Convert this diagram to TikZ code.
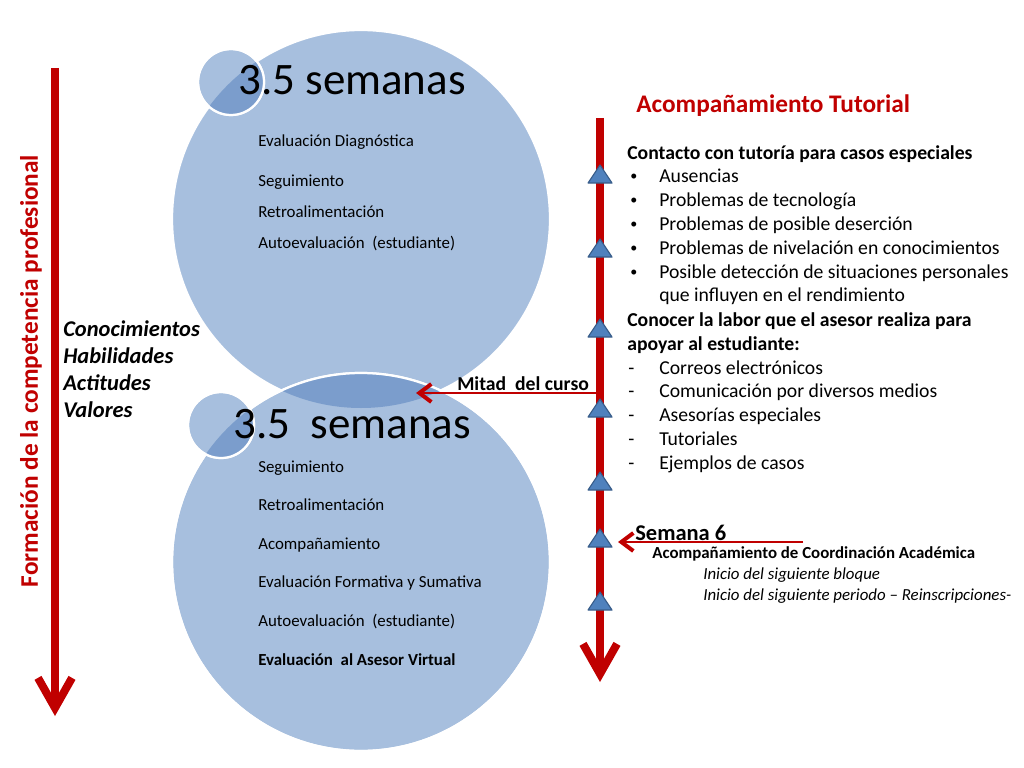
\documentclass[tikz,border=0pt]{standalone}
\usepackage{fontspec}
\setmainfont{Carlito}
\usetikzlibrary{arrows.meta,positioning}
\definecolor{darkred}{HTML}{C00000}
\definecolor{circblue}{HTML}{A7BFDE}
\definecolor{lensblue}{HTML}{7B9DCC}
\definecolor{triblue}{HTML}{4F81BD}
\definecolor{triedge}{HTML}{385D8A}
\tikzset{
bigcirc/.style={
  fill=circblue,
  draw=white,
  line width=1.6pt,
  }
}
\tikzset{
spine/.style={
  draw=darkred,
  line width=0.2cm,
  -{Straight Barb[length=0.75cm,width=0.85cm]}
  }
}
\tikzset{
pointer/.style={
  draw=darkred,
  line width=0.07cm,
  -{Straight Barb[length=0.3cm,width=0.45cm,line width=0.1cm]}
  }
}
\tikzset{
tri/.style={
  fill=triblue,
  draw=triedge,
  line width=0.8pt,
  line join=round,
  }
}
\tikzset{
weektitle/.style={
  anchor=base west,
  inner sep=0pt,
  font=\fontsize{32}{38}\selectfont,
  }
}
\tikzset{
circitem/.style={
  anchor=base west,
  inner sep=0pt,
  font=\fontsize{12}{14}\selectfont,
  }
}
\tikzset{
listitem/.style={
  anchor=base west,
  inner sep=0pt,
  font=\fontsize{14}{17}\selectfont,
  }
}

\begin{document}
\begin{tikzpicture}[x=0.025cm,y=-0.025cm]
    \useasboundingbox (0,0) rectangle (1024,768);

    % circles part
    \coordinate (topc) at (361,219);
    \coordinate (botc) at (361,562);
    \coordinate (topsc) at (231,82);
    \coordinate (botsc) at (221,425);
    \path[bigcirc] (topc) circle[radius=189];
    \path[bigcirc] (topsc) circle[radius=33];
    \begin{scope}
      \clip (topc) circle[radius=189];
      \fill[lensblue] (topsc) circle[radius=33];
    \end{scope}
    \draw[white, line width=1.6pt] (topsc) circle[radius=33];
    \path[bigcirc] (botc) circle[radius=189];
    \begin{scope}
      \clip (topc) circle[radius=189];
      \fill[lensblue] (botc) circle[radius=189];
    \end{scope}
    \draw[white, line width=1.6pt] (botc) circle[radius=189];
    \path[bigcirc] (botsc) circle[radius=33];
    \begin{scope}
      \clip (botc) circle[radius=189];
      \fill[lensblue] (botsc) circle[radius=33];
    \end{scope}
    \draw[white, line width=1.6pt] (botsc) circle[radius=33];

    % circle texts
    \node[weektitle] (toptitle) at (238,95) {3.5 semanas};
    \node[weektitle] (bottitle) at (233,438) {3.5\ \ semanas};
    \foreach \y/\txt [count=\i] in {147/Evaluación Diagnóstica, 186/Seguimiento,
        217/Retroalimentación, 248/Autoevaluación\ \ (estudiante)}
      \node[circitem] (topitem\i) at (258,\y) {\txt};
    \foreach \y/\txt [count=\i] in {472/Seguimiento, 510/Retroalimentación,
        549/Acompañamiento, 587/Evaluación Formativa y Sumativa,
        626/Autoevaluación\ \ (estudiante)}
      \node[circitem] (botitem\i) at (258,\y) {\txt};
    \node[circitem, font=\fontsize{12}{14}\selectfont\bfseries] (botitem6) at (258,665) {Evaluación\ \ al Asesor Virtual};

    % left part
    \coordinate (ltop) at (55,68);
    \coordinate (lend) at (55,716);
    \draw[spine] (ltop) -- (lend);
    \node[rotate=90, inner sep=0pt, text=darkred, font=\fontsize{18}{22}\selectfont\bfseries] (formacion) at (31,371) {Formación de la competencia profesional};
    \foreach \y/\txt [count=\i] in {336/Conocimientos, 363/Habilidades, 390/Actitudes, 417/Valores}
      \node[listitem, font=\fontsize{16}{19}\selectfont\bfseries\itshape] (skill\i) at (63,\y) {\txt};

    % right part
    \coordinate (midstart) at (600,393);
    \coordinate (midend) at (416,393);
    \coordinate (semstart) at (803,542);
    \coordinate (semend) at (618,542);
    \draw[pointer] (midstart) -- (midend);
    \draw[pointer] (semstart) -- (semend);
    \coordinate (rtop) at (600,118);
    \coordinate (rend) at (600,682);
    \draw[spine] (rtop) -- (rend);
    \foreach \y in {183,257,337,417,490,547,610}
      \draw[tri] (588,\y) -- (600,\y-18) -- (612,\y) -- cycle;

    \node[listitem, text=darkred, font=\fontsize{18}{22}\selectfont\bfseries] (tutorial) at (636,113) {Acompañamiento Tutorial};
    \node[listitem, font=\fontsize{14}{17}\selectfont\bfseries] (contacto) at (627,159) {Contacto con tutoría para casos especiales};
    \foreach \y/\txt [count=\i] in {182/Ausencias, 206/Problemas de tecnología,
        230/Problemas de posible deserción, 254/Problemas de nivelación en conocimientos,
        278/Posible detección de situaciones personales}
    {
      \node[listitem, font=\fontsize{10}{12}\selectfont] (dot\i) at (630,\y-2) {•};
      \node[listitem] (case\i) at (659,\y) {\txt};
    }
    \node[listitem] (case6) at (659,301) {que influyen en el rendimiento};
    \node[listitem, font=\fontsize{14}{17}\selectfont\bfseries] (conocer) at (627,326) {Conocer la labor que el asesor realiza para};
    \node[listitem, font=\fontsize{14}{17}\selectfont\bfseries] (apoyar) at (627,350) {apoyar al estudiante:};
    \foreach \y/\txt [count=\i] in {374/Correos electrónicos, 397/Comunicación por diversos medios,
        421/Asesorías especiales, 445/Tutoriales, 469/Ejemplos de casos}
    {
      \node[listitem] (dash\i) at (628,\y) {-};
      \node[listitem] (medio\i) at (659,\y) {\txt};
    }

    % week labels
    \node[listitem, font=\fontsize{14}{17}\selectfont\bfseries] (mitad) at (457,390) {Mitad\ \ del curso};
    \node[listitem, font=\fontsize{16}{19}\selectfont\bfseries] (semana) at (635,540) {Semana 6};
    \node[listitem, font=\fontsize{12}{14}\selectfont\bfseries] (coord) at (652,558) {Acompañamiento de Coordinación Académica};
    \node[listitem, font=\fontsize{12}{14}\selectfont\itshape] (bloque) at (703,579) {Inicio del siguiente bloque};
    \node[listitem, font=\fontsize{12}{14}\selectfont\itshape] (periodo) at (703,600) {Inicio del siguiente periodo – Reinscripciones-};
\end{tikzpicture}
\end{document}
